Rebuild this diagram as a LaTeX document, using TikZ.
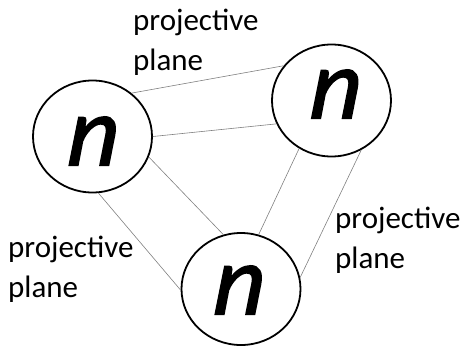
\documentclass[tikz,border=0pt]{standalone}
\usepackage{fontspec}
\setmainfont{Carlito}
\newfontfamily\nfont{Carlito}[ItalicFeatures={FakeBold=1.6,FakeSlant=0.08}]
\usetikzlibrary{shapes.geometric}
\begin{document}
\begin{tikzpicture}[x=1pt,y=-1pt,
  vtx/.style={ellipse,draw,line width=1.8pt,minimum width=119pt,minimum height=112pt,inner sep=0pt},
  nlab/.style={inner sep=0pt,font=\fontsize{100}{100}\nfont\itshape},
  edge/.style={draw=gray,line width=0.6pt},
  lab/.style={align=left,anchor=base west,inner sep=0pt,font=\fontsize{31}{40}\selectfont}]
\useasboundingbox (0,0) rectangle (466,346);
\node[vtx] (L) at (92.5,136.5) {};
\node[vtx] (R) at (331.5,100.5) {};
\node[vtx] (B) at (241,289) {};
\node[nlab] (nL) at (91.5,141) {n};
\node[nlab] (nR) at (334,94) {n};
\node[nlab] (nB) at (237.5,290) {n};
\draw[edge] (L.48.8) -- (R.144.7);
\draw[edge] (L.0) -- (R.203.4);
\draw[edge] (L.-20.5) -- (B.108.5);
\draw[edge] (L.-84.4) -- (B.181);
\draw[edge] (R.236.1) -- (B.72.2);
\draw[edge] (R.301) -- (B.11.8);
\node[lab] (t1) at (133,70) {projective\\plane};
\node[lab] (t2) at (8,297) {projective\\plane};
\node[lab] (t3) at (335,268) {projective\\plane};
\end{tikzpicture}
\end{document}
